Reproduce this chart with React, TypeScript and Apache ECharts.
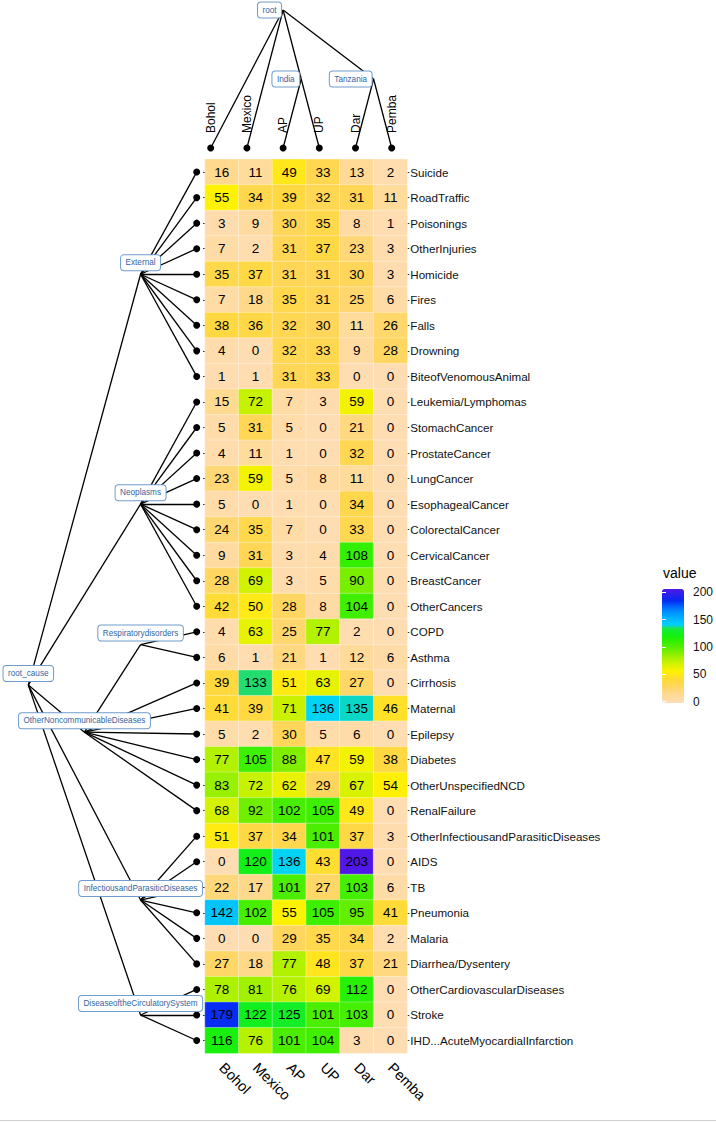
import React, { useEffect, useRef } from 'react';
import * as echarts from 'echarts';

const colLabels = ['Bohol', 'Mexico', 'AP', 'UP', 'Dar', 'Pemba'];
const colParents = ['root', 'root', 'India', 'India', 'Tanzania', 'Tanzania'];
const colGroupNames = ['India', 'Tanzania', 'root'];
const colGroupParents = ['root', 'root', ''];

const rowLabels = [
  'Suicide', 'RoadTraffic', 'Poisonings', 'OtherInjuries', 'Homicide', 'Fires', 'Falls', 'Drowning',
  'BiteofVenomousAnimal', 'Leukemia/Lymphomas', 'StomachCancer', 'ProstateCancer', 'LungCancer',
  'EsophagealCancer', 'ColorectalCancer', 'CervicalCancer', 'BreastCancer', 'OtherCancers', 'COPD',
  'Asthma', 'Cirrhosis', 'Maternal', 'Epilepsy', 'Diabetes', 'OtherUnspecifiedNCD', 'RenalFailure',
  'OtherInfectiousandParasiticDiseases', 'AIDS', 'TB', 'Pneumonia', 'Malaria', 'Diarrhea/Dysentery',
  'OtherCardiovascularDiseases', 'Stroke', 'IHD...AcuteMyocardialInfarction',
];
const rowParents = [
  'External', 'External', 'External', 'External', 'External', 'External', 'External', 'External', 'External',
  'Neoplasms', 'Neoplasms', 'Neoplasms', 'Neoplasms', 'Neoplasms', 'Neoplasms', 'Neoplasms', 'Neoplasms', 'Neoplasms',
  'Respiratorydisorders', 'Respiratorydisorders',
  'OtherNoncommunicableDiseases', 'OtherNoncommunicableDiseases', 'OtherNoncommunicableDiseases',
  'OtherNoncommunicableDiseases', 'OtherNoncommunicableDiseases', 'OtherNoncommunicableDiseases',
  'InfectiousandParasiticDiseases', 'InfectiousandParasiticDiseases', 'InfectiousandParasiticDiseases',
  'InfectiousandParasiticDiseases', 'InfectiousandParasiticDiseases', 'InfectiousandParasiticDiseases',
  'DiseaseoftheCirculatorySystem', 'DiseaseoftheCirculatorySystem', 'DiseaseoftheCirculatorySystem',
];
const rowGroupNames = [
  'Respiratorydisorders', 'External', 'Neoplasms', 'OtherNoncommunicableDiseases',
  'InfectiousandParasiticDiseases', 'DiseaseoftheCirculatorySystem', 'root_cause',
];
const rowGroupParents = [
  'OtherNoncommunicableDiseases', 'root_cause', 'root_cause', 'root_cause', 'root_cause', 'root_cause', '',
];

const bohol = [16, 55, 3, 7, 35, 7, 38, 4, 1, 15, 5, 4, 23, 5, 24, 9, 28, 42, 4, 6, 39, 41, 5, 77, 83, 68, 51, 0, 22, 142, 0, 27, 78, 179, 116];
const mexico = [11, 34, 9, 2, 37, 18, 36, 0, 1, 72, 31, 11, 59, 0, 35, 31, 69, 50, 63, 1, 133, 39, 2, 105, 72, 92, 37, 120, 17, 102, 0, 18, 81, 122, 76];
const ap = [49, 39, 30, 31, 31, 35, 32, 32, 31, 7, 5, 1, 5, 1, 7, 3, 3, 28, 25, 21, 51, 71, 30, 88, 62, 102, 34, 136, 101, 55, 29, 77, 76, 125, 101];
const up = [33, 32, 35, 37, 31, 31, 30, 33, 33, 3, 0, 0, 8, 0, 0, 4, 5, 8, 77, 1, 63, 136, 5, 47, 29, 105, 101, 43, 27, 105, 35, 48, 69, 101, 104];
const dar = [13, 31, 8, 23, 30, 25, 11, 9, 0, 59, 21, 32, 11, 34, 33, 108, 90, 104, 2, 12, 27, 135, 6, 59, 67, 49, 37, 203, 103, 95, 34, 37, 112, 103, 3];
const pemba = [2, 11, 1, 3, 3, 6, 26, 28, 0, 0, 0, 0, 0, 0, 0, 0, 0, 0, 0, 6, 0, 46, 0, 38, 54, 0, 3, 0, 6, 41, 2, 21, 0, 0, 0];
const columns = [bohol, mexico, ap, up, dar, pemba];

const legendTicks = [0, 50, 100, 150, 200];
const valueMin = 0;
const valueMax = 200;

// colour stops of the fill scale (style)
const colorStops: [number, string][] = [
  [0, '#FFDDB3'], [10, '#FFDB9F'], [20, '#FFD883'], [30, '#FFD659'], [40, '#FFD93C'],
  [48, '#FFE520'], [55, '#FFF200'], [62, '#EAF200'], [72, '#C6F200'], [80, '#A6F000'],
  [90, '#78EE00'], [100, '#4EEE00'], [110, '#2CF000'], [118, '#12F012'], [128, '#12EE30'],
  [133, '#22DC70'], [136, '#00D4F2'], [145, '#00BCFF'], [160, '#0090FF'], [170, '#0060FF'],
  [180, '#0828F0'], [192, '#3020EA'], [200, '#5018E6'],
];

function hexToRgb(h: string) {
  return [parseInt(h.slice(1, 3), 16), parseInt(h.slice(3, 5), 16), parseInt(h.slice(5, 7), 16)];
}
function colorAt(v: number) {
  for (let i = 0; i < colorStops.length - 1; i++) {
    const [a, ca] = colorStops[i];
    const [b, cb] = colorStops[i + 1];
    if (v >= a && v <= b) {
      const t = b === a ? 0 : (v - a) / (b - a);
      const A = hexToRgb(ca), B = hexToRgb(cb);
      const c = A.map((x, k) => Math.round(x + (B[k] - x) * t));
      return `rgb(${c[0]},${c[1]},${c[2]})`;
    }
  }
  return colorStops[colorStops.length - 1][1];
}
const scaleColors: string[] = [];
for (let v = valueMin; v <= valueMax; v += 1) scaleColors.push(colorAt(v));

type P = { p: number; h: number };
function layoutTree(leaves: string[], leafParents: string[], groups: string[], groupParents: string[]) {
  const pos: Record<string, P> = {};
  const children: Record<string, string[]> = {};
  leaves.forEach((n, i) => {
    pos[n] = { p: i, h: 0 };
    (children[leafParents[i]] = children[leafParents[i]] || []).push(n);
  });
  groups.forEach((g, i) => {
    if (groupParents[i]) (children[groupParents[i]] = children[groupParents[i]] || []).push(g);
  });
  const resolve = (name: string): P => {
    if (pos[name]) return pos[name];
    const ch = children[name].map(resolve);
    const p = ch.reduce((s, c) => s + c.p, 0) / ch.length;
    const h = 1 + Math.max(...ch.map((c) => c.h));
    pos[name] = { p, h };
    return pos[name];
  };
  groups.forEach(resolve);
  const edges: [P, P][] = [];
  leaves.forEach((n, i) => edges.push([pos[leafParents[i]], pos[n]]));
  groups.forEach((g, i) => { if (groupParents[i]) edges.push([pos[groupParents[i]], pos[g]]); });
  return { pos, edges };
}

const FONT = '"Liberation Sans", Arial, Helvetica, sans-serif';

export default function App() {
  const ref = useRef<HTMLDivElement>(null);
  useEffect(() => {
    if (!ref.current) return;
    const chart = echarts.init(ref.current, undefined, { renderer: 'svg' });

    const heatData: number[][] = [];
    columns.forEach((col, ci) => col.forEach((v, ri) => heatData.push([ci, ri, v])));

    const leftTree = layoutTree(rowLabels, rowParents, rowGroupNames, rowGroupParents);
    const topTree = layoutTree(colLabels, colParents, colGroupNames, colGroupParents);

    const boxStyle = {
      fontSize: 8.2,
      lineHeight: 9,
      fill: '#3465A0',
      backgroundColor: '#ffffff',
      borderColor: '#6F9CCB',
      borderWidth: 1,
      borderRadius: 3,
      padding: [3, 4.5, 3, 4.5],
      fontFamily: FONT,
    };

    const makeLabelSeries = (
      names: string[], values: number[][], xAxisIndex: number, yAxisIndex: number,
      align: string, verticalAlign: string, dx: number, dy: number,
    ) => ({
      type: 'custom', coordinateSystem: 'cartesian2d', xAxisIndex, yAxisIndex, silent: true, z: 20,
      clip: false,
      data: values,
      renderItem: (params: any, api: any) => {
        const pt = api.coord([api.value(0), api.value(1)]);
        return {
          type: 'text',
          z2: 100,
          style: {
            ...boxStyle,
            text: names[params.dataIndex],
            x: pt[0] + dx,
            y: pt[1] + dy,
            align,
            verticalAlign,
          },
        };
      },
    });

    const hmTop = 159.3, hmHeight = 894, hmLeft = 205, hmWidth = 202.3;

    const option: any = {
      animation: false,
      textStyle: { fontFamily: FONT },
      grid: [
        { left: hmLeft, top: hmTop, width: hmWidth, height: hmHeight },
        { left: 28.3, top: hmTop, width: 168.4, height: hmHeight },
        { left: 210.7, top: 10, width: 181, height: 138 },
        { left: 662, top: 592.3, width: 22, height: 109.4 },
      ],
      xAxis: [
        {
          type: 'category', gridIndex: 0, data: colLabels, position: 'bottom',
          axisLine: { show: false }, axisTick: { show: false }, splitLine: { show: false },
          axisLabel: { rotate: -45, fontSize: 14.5, color: '#000', margin: 12, interval: 0, fontFamily: FONT },
        },
        { type: 'value', gridIndex: 1, min: 0, max: 3, inverse: true, show: false },
        { type: 'value', gridIndex: 2, min: 0, max: 5, show: false },
        { type: 'value', gridIndex: 3, min: 0, max: 1, show: false },
      ],
      yAxis: [
        {
          type: 'category', gridIndex: 0, data: rowLabels, inverse: true, position: 'right',
          axisLine: { show: false },
          axisTick: { show: true, length: 2, alignWithLabel: true, lineStyle: { color: '#333', width: 1 } },
          splitLine: { show: false },
          axisLabel: { fontSize: 11.6, color: '#111', margin: 3, interval: 0, fontFamily: FONT },
        },
        {
          type: 'category', gridIndex: 0, data: rowLabels, inverse: true, position: 'left',
          axisLine: { show: false },
          axisTick: { show: true, length: 2, alignWithLabel: true, lineStyle: { color: '#333', width: 1 } },
          splitLine: { show: false }, axisLabel: { show: false },
        },
        { type: 'value', gridIndex: 1, min: -0.5, max: rowLabels.length - 0.5, inverse: true, show: false },
        { type: 'value', gridIndex: 2, min: 0, max: 2, show: false },
        {
          type: 'value', gridIndex: 3, min: legendTicks[0], max: legendTicks[legendTicks.length - 1],
          interval: 50, position: 'right', z: 10,
          axisLine: { show: false }, splitLine: { show: false },
          axisTick: { show: true, inside: true, length: 4, lineStyle: { color: '#ffffff', width: 1 } },
          axisLabel: { fontSize: 12, color: '#111', margin: 9, fontFamily: FONT },
        },
        {
          type: 'value', gridIndex: 3, min: legendTicks[0], max: legendTicks[legendTicks.length - 1],
          interval: 50, position: 'left', z: 10,
          axisLine: { show: false }, splitLine: { show: false }, axisLabel: { show: false },
          axisTick: { show: true, inside: true, length: 4, lineStyle: { color: '#ffffff', width: 1 } },
        },
      ],
      visualMap: {
        type: 'continuous', min: valueMin, max: valueMax, seriesIndex: 0, dimension: 2,
        inRange: { color: scaleColors }, calculable: false, hoverLink: false,
        left: 662, top: 589, itemWidth: 22, itemHeight: 114, padding: 0, orient: 'vertical',
      },
      graphic: [
        { type: 'text', left: 663, top: 566, style: { text: 'value', fontSize: 14, fill: '#000', fontFamily: FONT } },
        { type: 'line', shape: { x1: 0, y1: 1120.5, x2: 716, y2: 1120.5 }, style: { stroke: '#cfcfcf', lineWidth: 1 } },
      ],
      series: [
        {
          type: 'heatmap', xAxisIndex: 0, yAxisIndex: 0, data: heatData,
          itemStyle: { borderColor: 'rgba(255,255,255,0.55)', borderWidth: 0.6 },
          label: { show: true, formatter: (p: any) => String(p.value[2]), fontSize: 13.5, color: '#000', fontFamily: FONT },
          emphasis: { disabled: true }, silent: true,
        },
        {
          type: 'lines', coordinateSystem: 'cartesian2d', xAxisIndex: 1, yAxisIndex: 2, silent: true, z: 2,
          lineStyle: { color: '#000', width: 1.3, opacity: 1, curveness: 0 },
          data: leftTree.edges.map(([a, b]) => ({ coords: [[a.h, a.p], [b.h, b.p]] })),
        },
        {
          type: 'lines', coordinateSystem: 'cartesian2d', xAxisIndex: 2, yAxisIndex: 3, silent: true, z: 2,
          lineStyle: { color: '#000', width: 1.3, opacity: 1, curveness: 0 },
          data: topTree.edges.map(([a, b]) => ({ coords: [[a.p, a.h], [b.p, b.h]] })),
        },
        {
          type: 'scatter', xAxisIndex: 1, yAxisIndex: 2, symbolSize: 7, silent: true, z: 3,
          itemStyle: { color: '#000', opacity: 1 },
          data: rowLabels.map((n) => ({ name: n, value: [leftTree.pos[n].h, leftTree.pos[n].p] })),
        },
        {
          type: 'scatter', xAxisIndex: 2, yAxisIndex: 3, symbolSize: 7, silent: true, z: 3,
          itemStyle: { color: '#000', opacity: 1 },
          label: {
            show: true, formatter: '{b}', position: 'top', distance: 11.5, rotate: 90,
            align: 'left', verticalAlign: 'middle', fontSize: 12, color: '#000', fontFamily: FONT,
          },
          data: colLabels.map((n) => ({ name: n, value: [topTree.pos[n].p, topTree.pos[n].h] })),
        },
        makeLabelSeries(
          rowGroupNames, rowGroupNames.map((n) => [leftTree.pos[n].h, leftTree.pos[n].p]),
          1, 2, 'center', 'bottom', 0, -4,
        ),
        makeLabelSeries(
          colGroupNames, colGroupNames.map((n) => [topTree.pos[n].p, topTree.pos[n].h]),
          2, 3, 'right', 'middle', -2, 0,
        ),
      ],
    };
    chart.setOption(option);
    return () => chart.dispose();
  }, []);
  return <div ref={ref} style={{ position: 'absolute', left: 0, top: 0, width: 716, height: 1123 }} />;
}
